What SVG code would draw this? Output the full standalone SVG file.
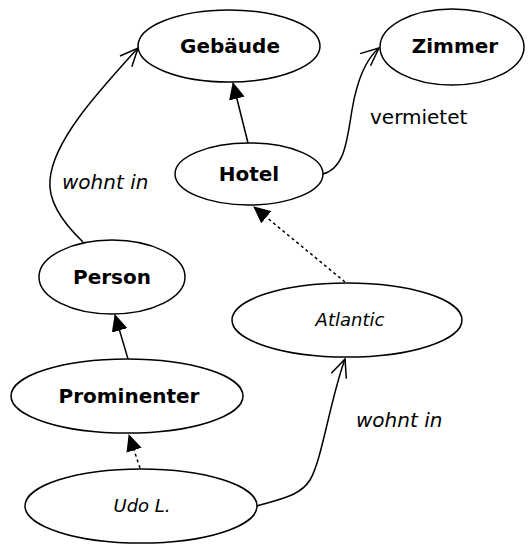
<svg xmlns="http://www.w3.org/2000/svg" width="531" height="546" viewBox="0 0 531 546">
<style>
.node ellipse{fill:#fff;stroke:#000;stroke-width:1.5}
.cls{font-family:"DejaVu Sans",sans-serif;font-weight:bold;font-size:20px;text-anchor:middle;fill:#000}
.inst{font-family:"DejaVu Sans",sans-serif;font-style:italic;font-size:18px;text-anchor:middle;fill:#000}
.lbl{font-family:"DejaVu Sans",sans-serif;font-size:20px;fill:#000}
.lbl.it{font-style:italic}
.edge{fill:none;stroke:#000;stroke-width:1.5}
.dash{stroke-dasharray:3,3}
</style>
<defs>
<marker id="tri" viewBox="0 0 17 16" refX="16" refY="8" markerWidth="17" markerHeight="16" markerUnits="userSpaceOnUse" orient="auto">
<path d="M0,0 L17,8 L0,16 z" fill="#000"/>
</marker>
<marker id="open" viewBox="-1 -1 20 18" refX="18" refY="8" markerWidth="20" markerHeight="18" markerUnits="userSpaceOnUse" orient="auto">
<path d="M0,0 L18,8 L0,16" fill="none" stroke="#000" stroke-width="1.5"/>
</marker>
</defs>
<g id="connectors">
<path class="edge" d="M248,143 L233,83" marker-end="url(#tri)"/>
<path class="edge" d="M323,174 C345,168 347,140 352,110 C357,80 365,60 379,48" marker-end="url(#open)"/>
<path class="edge" d="M83,242 C60,220 48,200 50,180 C53,140 100,90 138,48" marker-end="url(#open)"/>
<path class="edge dash" d="M345,282 L254,207" marker-end="url(#tri)"/>
<path class="edge" d="M128,359 L115,315" marker-end="url(#tri)"/>
<path class="edge dash" d="M140,468 L129,435" marker-end="url(#tri)"/>
<path class="edge" d="M257,506 C280,499 300,496 310,480 C322,460 330,400 345,359" marker-end="url(#open)"/>
<text class="lbl" x="370" y="124">vermietet</text>
<text class="lbl it" x="62" y="189">wohnt in</text>
<text class="lbl it" x="356" y="427">wohnt in</text>
</g>
<g id="gebaeude" class="node"><ellipse cx="229" cy="46" rx="91" ry="36"/><text class="cls" x="230" y="53">Gebäude</text></g>
<g id="zimmer" class="node"><ellipse cx="452" cy="47" rx="72" ry="38"/><text class="cls" x="455" y="53">Zimmer</text></g>
<g id="hotel" class="node"><ellipse cx="249" cy="174" rx="74" ry="31"/><text class="cls" x="249" y="181">Hotel</text></g>
<g id="person" class="node"><ellipse cx="112" cy="277" rx="73" ry="37"/><text class="cls" x="112" y="284">Person</text></g>
<g id="atlantic" class="node"><ellipse cx="347" cy="320" rx="115" ry="37"/><text class="inst" x="350" y="326">Atlantic</text></g>
<g id="prominenter" class="node"><ellipse cx="127" cy="396" rx="116" ry="37"/><text class="cls" x="129" y="403">Prominenter</text></g>
<g id="udo" class="node"><ellipse cx="141" cy="506" rx="116" ry="37"/><text class="inst" x="142" y="512">Udo L.</text></g>
</svg>
